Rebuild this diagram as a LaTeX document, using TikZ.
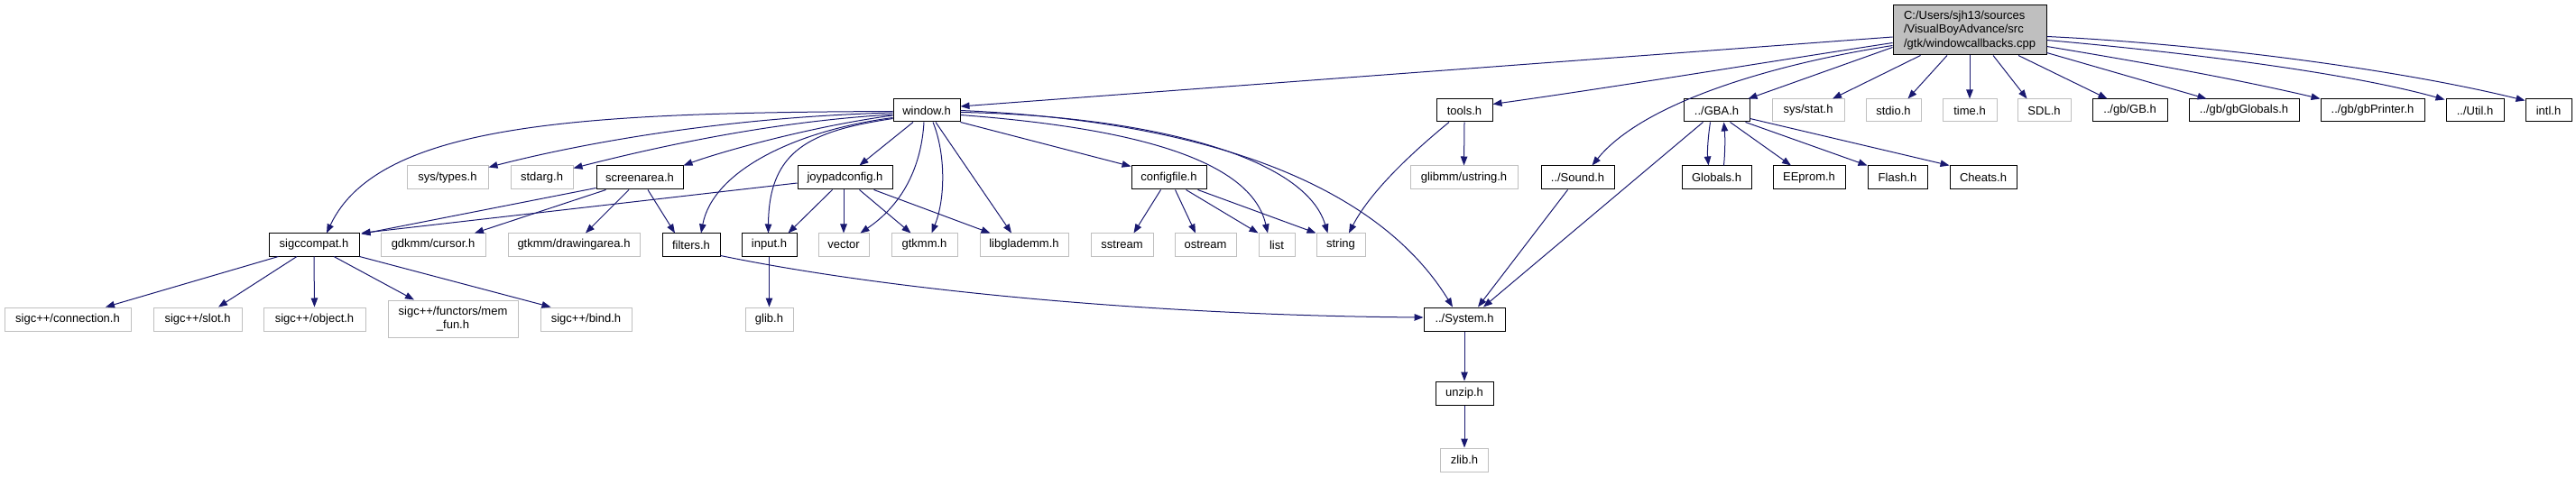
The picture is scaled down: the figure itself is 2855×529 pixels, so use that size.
\documentclass[tikz,border=0pt]{standalone}
\usepackage{fontspec}
\newfontfamily\dfont{Liberation Sans}
\usetikzlibrary{arrows.meta,calc}
\definecolor{navy}{HTML}{191970}
\definecolor{grayb}{HTML}{BFBFBF}
\definecolor{mainfill}{HTML}{BFBFBF}
\begin{document}
\begin{tikzpicture}[x=1pt,y=-1pt,
  box/.style={rectangle, inner sep=0pt, minimum height=25pt, font=\dfont\fontsize{13}{15.3}\selectfont, text=black, align=center},
  doc/.style={box, draw=black, line width=1pt},
  ext/.style={box, draw=grayb, line width=1pt},
  conn/.style={draw=navy, line width=1pt, -{Triangle[length=10pt,width=7.5pt]}}]
\useasboundingbox (0,0) rectangle (2855,529);
% main
\node[doc, fill=mainfill, minimum width=170pt, minimum height=55pt, align=left] (M) at (2183,33.5) {C:/Users/sjh13/sources\\/VisualBoyAdvance/src\\/gtk/windowcallbacks.cpp};
% row 1
\node[doc, minimum width=74pt] (W) at (1027,122.5) {window.h};
\node[doc, minimum width=62pt] (T) at (1623,122.5) {tools.h};
\node[doc, minimum width=73pt] (G) at (1902.5,122.5) {../GBA.h};
\node[ext, minimum width=80pt] (sysstat) at (2004,122.5) {sys/stat.h};
\node[ext, minimum width=61pt] (stdio) at (2098.5,122.5) {stdio.h};
\node[ext, minimum width=60pt] (time) at (2183,122.5) {time.h};
\node[ext, minimum width=59pt] (SDL) at (2265.5,122.5) {SDL.h};
\node[doc, minimum width=83pt] (gbGB) at (2360.5,122.5) {../gb/GB.h};
\node[doc, minimum width=122pt] (gbGlobals) at (2487,122.5) {../gb/gbGlobals.h};
\node[doc, minimum width=115pt] (gbPrinter) at (2629.5,122.5) {../gb/gbPrinter.h};
\node[doc, minimum width=64pt] (Util) at (2743,122.5) {../Util.h};
\node[doc, minimum width=51pt] (intl) at (2824.5,122.5) {intl.h};
% row 2
\node[ext, minimum width=90pt, minimum height=26pt] (systypes) at (496,197) {sys/types.h};
\node[ext, minimum width=69pt, minimum height=26pt] (stdarg) at (600.5,197) {stdarg.h};
\node[doc, minimum width=96pt, minimum height=26pt] (screen) at (709,197) {screenarea.h};
\node[doc, minimum width=105pt, minimum height=26pt] (joy) at (936.5,197) {joypadconfig.h};
\node[doc, minimum width=83pt, minimum height=26pt] (cfg) at (1295.5,197) {configfile.h};
\node[ext, minimum width=119pt, minimum height=26pt] (ustring) at (1622.5,197) {glibmm/ustring.h};
\node[doc, minimum width=81pt, minimum height=26pt] (Sound) at (1748.5,197) {../Sound.h};
\node[doc, minimum width=77pt, minimum height=26pt] (Globals) at (1902.5,197) {Globals.h};
\node[doc, minimum width=80pt, minimum height=26pt] (EEprom) at (2005,197) {EEprom.h};
\node[doc, minimum width=66pt, minimum height=26pt] (Flash) at (2103,197) {Flash.h};
\node[doc, minimum width=74pt, minimum height=26pt] (Cheats) at (2198,197) {Cheats.h};
% row 3
\node[doc, minimum width=100pt] (sig) at (348,271.5) {sigccompat.h};
\node[ext, minimum width=116pt] (cursor) at (480,271.5) {gdkmm/cursor.h};
\node[ext, minimum width=146pt] (drawing) at (636,271.5) {gtkmm/drawingarea.h};
\node[doc, minimum width=64pt] (filters) at (766,271.5) {filters.h};
\node[doc, minimum width=61pt] (input) at (852.5,271.5) {input.h};
\node[ext, minimum width=56pt] (vector) at (935,271.5) {vector};
\node[ext, minimum width=73pt] (gtkmm) at (1024.5,271.5) {gtkmm.h};
\node[ext, minimum width=98pt] (glade) at (1135,271.5) {libglademm.h};
\node[ext, minimum width=69pt] (sstream) at (1243.5,271.5) {sstream};
\node[ext, minimum width=68pt] (ostream) at (1336,271.5) {ostream};
\node[ext, minimum width=40pt] (list) at (1415,271.5) {list};
\node[ext, minimum width=54pt] (string) at (1486,271.5) {string};
% row 4
\node[ext, minimum width=140pt, minimum height=26pt] (conn) at (75,354) {sigc++/connection.h};
\node[ext, minimum width=98pt, minimum height=26pt] (slot) at (219,354) {sigc++/slot.h};
\node[ext, minimum width=113pt, minimum height=26pt] (object) at (348.5,354) {sigc++/object.h};
\node[ext, minimum width=144pt, minimum height=41pt] (memfun) at (502,353.5) {sigc++/functors/mem\\\_fun.h};
\node[ext, minimum width=101pt, minimum height=26pt] (bind) at (649.5,354) {sigc++/bind.h};
\node[ext, minimum width=53pt, minimum height=26pt] (glib) at (852.5,354) {glib.h};
\node[doc, minimum width=90pt, minimum height=26pt] (Sys) at (1623,354) {../System.h};
\node[doc, minimum width=64pt, minimum height=26pt] (unzip) at (1623,436) {unzip.h};
\node[ext, minimum width=53pt, minimum height=26pt] (zlib) at (1623,510) {zlib.h};

% edges from main
\draw[conn] ($(M.west)+(0,7.5)$) -- ($(W.east)+(0,-4.5)$);
\draw[conn] ($(M.west)+(0,14)$) .. controls (1950,70) and (1800,95) .. ($(T.east)+(0,-7)$);
\draw[conn] ($(M.west)+(0,17)$) .. controls (1960,72) and (1820,115) .. ($(Sound.north)+(16,0)$);
\draw[conn] ($(M.west)+(0,19)$) -- ($(G.north east)+(-2,0)$);
\draw[conn] ($(M.south west)+(31,0)$) -- ($(sysstat.north)+(27,0)$);
\draw[conn] ($(M.south)+(-25,0)$) -- ($(stdio.north)+(16,0)$);
\draw[conn] (M.south) -- (time.north);
\draw[conn] ($(M.south)+(26,0)$) -- ($(SDL.north)+(-19,0)$);
\draw[conn] ($(M.south)+(54,0)$) -- ($(gbGB.north)+(-25,0)$);
\draw[conn] ($(M.south east)+(0,-3)$) -- ($(gbGlobals.north west)+(20,0)$);
\draw[conn] ($(M.east)+(0,18)$) .. controls (2380,70) and (2480,88) .. ($(gbPrinter.north west)+(0,0)$);
\draw[conn] ($(M.east)+(0,11)$) .. controls (2420,58) and (2600,80) .. ($(Util.north west)+(-1,1)$);
\draw[conn] ($(M.east)+(0,7)$) .. controls (2430,48) and (2650,75) .. ($(intl.north west)+(0,2)$);

% edges from window.h
\draw[conn] ($(W.west)+(0,2.5)$) .. controls (800,130) and (640,160) .. ($(systypes.north east)+(0,2)$);
\draw[conn] ($(W.west)+(0,4.5)$) .. controls (850,135) and (720,165) .. ($(stdarg.north east)+(0,3)$);
\draw[conn] ($(W.west)+(0,5.5)$) .. controls (900,140) and (800,168) .. (screen.north east);
\draw[conn] ($(W.west)+(0,1)$) .. controls (650,125) and (420,135) .. ($(sig.north)+(14,0)$);
\draw[conn] ($(W.west)+(0,9)$) .. controls (900,145) and (852,165) .. ($(input.north)+(-1,0)$);
\draw[conn] ($(W.west)+(0,8)$) .. controls (880,145) and (790,190) .. ($(filters.north)+(11,0)$);
\draw[conn] ($(W.south)+(-15,0)$) -- ($(joy.north)+(16,0)$);
\draw[conn] ($(W.south)+(-3,0)$) .. controls (1022,170) and (1010,220) .. ($(vector.north east)+(-10,0)$);
\draw[conn] ($(W.south)+(7,0)$) .. controls (1048,170) and (1048,220) .. ($(gtkmm.north)+(8,0)$);
\draw[conn] ($(W.south)+(10,0)$) -- ($(glade.north)+(-14,0)$);
\draw[conn] (W.south east) -- ($(cfg.north west)+(0,1)$);
\draw[conn] ($(W.east)+(0,5)$) .. controls (1230,140) and (1385,170) .. ($(list.north)+(-10,0)$);
\draw[conn] ($(W.east)+(0,2)$) .. controls (1260,128) and (1445,170) .. ($(string.north west)+(13,0)$);
\draw[conn] (W.east) .. controls (1350,135) and (1530,210) .. ($(Sys.north)+(-13,0)$);

% sigccompat
\draw[conn] ($(sig.south west)+(11,0)$) -- ($(conn.north)+(42,0)$);
\draw[conn] ($(sig.south)+(-19,0)$) -- ($(slot.north)+(23,0)$);
\draw[conn] (sig.south) -- (object.north);
\draw[conn] ($(sig.south)+(22,0)$) -- ($(memfun.north)+(-43,0)$);
\draw[conn] (sig.south east) -- ($(bind.north)+(-39,0)$);

% screenarea
\draw[conn] ($(screen.south west)+(0,-2)$) -- ($(sig.north east)+(2,1)$);
\draw[conn] ($(screen.south west)+(11,0)$) -- ($(cursor.north)+(46,0)$);
\draw[conn] ($(screen.south)+(-12,0)$) -- ($(drawing.north)+(13,0)$);
\draw[conn] ($(screen.south)+(9,0)$) -- ($(filters.north)+(-18,0)$);

% joypadconfig
\draw[conn] ($(joy.west)+(0,6)$) -- ($(sig.north east)+(2,0)$);
\draw[conn] ($(joy.south)+(-14,0)$) -- ($(input.north east)+(-10,0)$);
\draw[conn] (vector.north |- joy.south) -- (vector.north);
\draw[conn] ($(joy.south)+(16,0)$) -- ($(gtkmm.north)+(-15,0)$);
\draw[conn] ($(joy.south east)+(-21,0)$) -- ($(glade.north west)+(12,0)$);

% configfile
\draw[conn] ($(cfg.south)+(-9,0)$) -- ($(sstream.north east)+(-22,0)$);
\draw[conn] ($(cfg.south)+(7,0)$) -- ($(ostream.north)+(-11,0)$);
\draw[conn] ($(cfg.south)+(19,0)$) -- (list.north west);
\draw[conn] ($(cfg.south)+(32,0)$) -- (string.north west);

% tools
\draw[conn] (T.south) -- (ustring.north);
\draw[conn] ($(T.south)+(-17,0)$) .. controls (1570,165) and (1520,210) .. ($(string.north)+(9,0)$);

% filters, input
\draw[conn] ($(filters.south east)+(0,-1)$) .. controls (1000,325) and (1300,350) .. ($(Sys.west)+(0,-2)$);
\draw[conn] (input.south) -- (glib.north);

% Sound, GBA
\draw[conn] ($(Sound.south west)+(30,0)$) -- ($(Sys.north)+(15,0)$);
\draw[conn] ($(G.south west)+(22,0)$) -- ($(Sys.north)+(21,0)$);
\draw[conn] ($(G.south)+(-7,0)$) .. controls (1893,152) and (1892,168) .. ($(Globals.north)+(-9,0)$);
\draw[conn] ($(Globals.north)+(8,0)$) .. controls (1912,168) and (1912,152) .. ($(G.south)+(8,0)$);
\draw[conn] ($(G.south)+(15,0)$) -- ($(EEprom.north)+(-20,0)$);
\draw[conn] ($(G.south east)+(-5,0)$) -- (Flash.north west);
\draw[conn] ($(G.east)+(0,9)$) -- (Cheats.north west);

% System chain
\draw[conn] (Sys.south) -- (unzip.north);
\draw[conn] (unzip.south) -- (zlib.north);
\end{tikzpicture}
\end{document}
